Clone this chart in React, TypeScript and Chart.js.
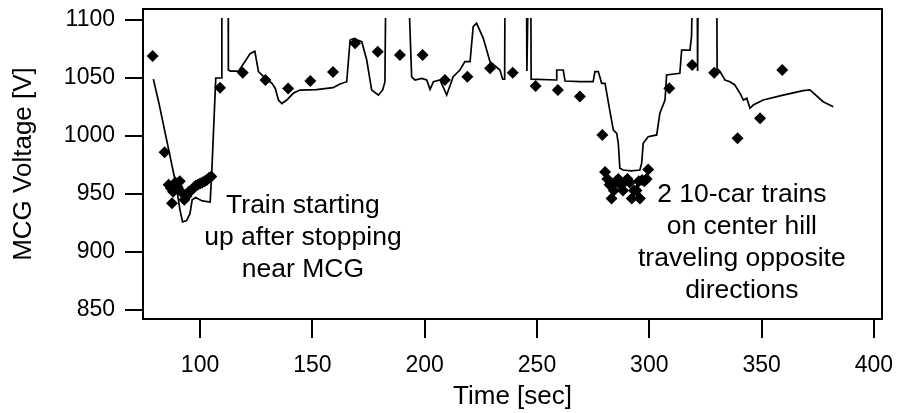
import React, { useEffect, useRef } from "react";
import { Chart, registerables } from "chart.js";

Chart.register(...registerables);

// ---- data ----
const xTickValues = [100, 150, 200, 250, 300, 350, 400];
const yTickValues = [850, 900, 950, 1000, 1050, 1100];

// measured voltage points (diamonds)
const markerTimes = [
  78.9, 84.2,
  86, 87, 87.5, 88, 89, 90, 91, 92, 93, 94, 95, 96, 97, 98, 99, 100, 101, 102, 103, 104, 105,
  108.9, 119, 129.1, 139.2, 149.1, 159.2, 169, 179.1, 189, 199.1, 209, 219, 229.1, 239.2,
  249.4, 259.3, 269.1, 279.1,
  280.3, 281.3, 282.3, 283.2, 284.2, 285.2, 286.2, 287.2, 288.3, 289.3, 290.3, 291.3,
  292.2, 293.2, 294.3, 295.3, 295.8, 296.8, 297.8, 298.8, 299.5,
  308.9, 319.1, 328.9, 339.3, 349.3, 359.2,
];
const markerVolts = [
  1069, 986,
  958, 955, 942, 952, 960, 956, 961, 951, 945, 948, 952, 953, 955, 957, 958, 959, 960, 961, 962, 964, 965,
  1041.7, 1054.6, 1048.3, 1041, 1047.4, 1055.2, 1079.9, 1072.7, 1069.8, 1069.8, 1048.3, 1051.1, 1058.4, 1054.6,
  1043.1, 1039.7, 1034, 1000.9,
  969, 963, 958, 946, 953, 961, 963, 958, 953, 961, 963, 960,
  946, 953, 953, 961, 946, 962, 961, 963, 971,
  1041.1, 1061.2, 1054.6, 998, 1015.3, 1056.9,
];

// simulated voltage trace (line); 1150 = off-scale above the frame
const traceTimes = [
  79.2, 81.5, 89.3, 91, 92.2, 94, 95.5, 96.5, 98, 101, 104.5, 105.2, 107, 109.6, 109.7,
  112.5, 112.6, 113.5, 117.2, 122.3, 124.4, 126, 129, 132, 133.5, 134.9, 136.4, 138.6,
  141.5, 144.4, 151.8, 159.2, 162.3, 165.3, 166.8, 168.3, 172, 174.2, 176.4, 179.4,
  181.3, 182.3, 182.8, 192.4, 194.2, 195.7, 198.7, 200.9, 202.4, 203.9, 206.8, 208.3,
  209.8, 212.7, 215.7, 217.9, 220.2, 221.6, 223.1, 226.1, 229.1, 233.5, 234.7, 235.6,
  235.8, 245.3, 245.5, 246.3, 247.2, 247.4, 258.5, 258.8, 261.7, 262.5, 269.1, 275,
  275.8, 277.3, 278.8, 280.3, 282.5, 284, 285.5, 286.2, 286.9, 288.4, 292, 295.8,
  296.6, 297.3, 299.5, 303.3, 304.7, 307, 307.7, 313.6, 314.4, 318.1, 318.8, 319.5,
  321.3, 321.5, 321.8, 330, 330.2, 331.5, 333.7, 335.9, 338.1, 340.4, 341.9, 343.4,
  344.8, 346.3, 350.7, 359.6, 368.5, 371.5, 377.4, 381.9,
];
const traceVolts = [
  1049, 1030, 958, 937, 926, 927, 933, 945, 947, 944, 943, 968, 1050, 1050, 1150,
  1150, 1057, 1056, 1056, 1071, 1073, 1055.5, 1050, 1045.4, 1041, 1031, 1028, 1031,
  1036.8, 1039.6, 1040, 1041.7, 1044.8, 1046.8, 1082.8, 1084, 1081.3, 1065.5, 1039.7, 1035.3,
  1039.7, 1046.6, 1150, 1150, 1051, 1048.3, 1049.7, 1048.3, 1040.2, 1046.9, 1048.3, 1042,
  1035.3, 1051.1, 1056.9, 1064.1, 1064.1, 1094.3, 1097.2, 1084.2, 1064.1, 1056.9, 1049, 1049,
  1150, 1150, 1056, 1150, 1150, 1049, 1048.3, 1056.9, 1056.9, 1047.4, 1046.8, 1046.8,
  1055.5, 1055.5, 1045.4, 1045.4, 1021, 1005, 1002.3, 993.7, 972.2, 970.7, 970, 970.7,
  976.5, 993.7, 999.4, 1000.9, 1019.6, 1031, 1052.6, 1054, 1074.1, 1074.1, 1085.6, 1150,
  1150, 1056, 1150, 1150, 1058, 1055.5, 1048.3, 1046.8, 1044, 1036.8, 1031, 1032.5,
  1023.9, 1026.7, 1031, 1035.3, 1039.1, 1039.7, 1029.6, 1025.3,
];

const noteLeft = ["Train starting", "up after stopping", "near MCG"];
const noteRight = ["2 10-car trains", "on center hill", "traveling opposite", "directions"];

// ---- styling / layout constants ----
const FONT = "'Liberation Sans', Arial, Helvetica, sans-serif";
const X_MIN = 74.6;
const X_MAX = 403.6;
const Y_MIN = 842.2;
const Y_MAX = 1109.5;
const NOTE_LEFT_ANCHOR = { x: 145.8, y: 933.6 };
const NOTE_RIGHT_ANCHOR = { x: 341.2, y: 943 };
const NOTE_LINE_GAP = 32;

const bgPlugin = {
  id: "bg",
  beforeDraw(chart: any) {
    const { ctx, width, height } = chart;
    ctx.save();
    ctx.fillStyle = "#fff";
    ctx.fillRect(0, 0, width, height);
    ctx.restore();
  },
};

const framePlugin = {
  id: "frame",
  afterDatasetsDraw(chart: any) {
    const { ctx, chartArea } = chart;
    ctx.save();
    ctx.strokeStyle = "#000";
    ctx.lineWidth = 2;
    ctx.strokeRect(
      chartArea.left,
      chartArea.top,
      chartArea.right - chartArea.left,
      chartArea.bottom - chartArea.top
    );
    ctx.restore();
  },
};

const notesPlugin = {
  id: "notes",
  afterDraw(chart: any) {
    const { ctx, scales } = chart;
    const draw = (lines: string[], anchor: { x: number; y: number }) => {
      const cx = scales.x.getPixelForValue(anchor.x);
      const by = scales.y.getPixelForValue(anchor.y);
      lines.forEach((t, i) => {
        ctx.fillText(t, cx, by + i * NOTE_LINE_GAP);
      });
    };
    ctx.save();
    ctx.fillStyle = "#000";
    ctx.font = `26.5px ${FONT}`;
    ctx.textAlign = "center";
    ctx.textBaseline = "alphabetic";
    draw(noteLeft, NOTE_LEFT_ANCHOR);
    draw(noteRight, NOTE_RIGHT_ANCHOR);
    ctx.restore();
  },
};

const zeroPadding = (s: any) => {
  s.paddingTop = 0;
  s.paddingBottom = 0;
  s.paddingLeft = 0;
  s.paddingRight = 0;
};

export default function App() {
  const canvasRef = useRef<HTMLCanvasElement | null>(null);

  useEffect(() => {
    const canvas = canvasRef.current;
    if (!canvas) return;

    const markerData = markerTimes.map((t, i) => ({ x: t, y: markerVolts[i] }));
    const traceData = traceTimes.map((t, i) => ({ x: t, y: traceVolts[i] }));

    const chart = new Chart(canvas, {
      type: "scatter",
      data: {
        datasets: [
          {
            label: "measured",
            data: markerData,
            pointStyle: "rectRot",
            pointRadius: 6,
            backgroundColor: "#000",
            borderColor: "#000",
            borderWidth: 0,
            showLine: false,
            order: 0,
          } as any,
          {
            label: "trace",
            data: traceData,
            showLine: true,
            pointRadius: 0,
            borderColor: "#000",
            borderWidth: 1.7,
            tension: 0,
            clip: { left: 0, top: -9, right: 0, bottom: 0 },
            order: 1,
          } as any,
        ],
      },
      options: {
        responsive: false,
        maintainAspectRatio: false,
        animation: false,
        layout: {
          padding: { left: 0, top: 9, right: 16, bottom: 0 },
          autoPadding: false,
        } as any,
        plugins: {
          legend: { display: false },
          tooltip: { enabled: false },
        },
        scales: {
          x: {
            type: "linear",
            min: X_MIN,
            max: X_MAX,
            afterBuildTicks: (s: any) => {
              s.ticks = xTickValues.map((v) => ({ value: v }));
            },
            afterFit: (s: any) => {
              s.height = 94;
              zeroPadding(s);
            },
            border: { display: false },
            grid: {
              display: true,
              drawOnChartArea: false,
              drawTicks: true,
              tickLength: 19,
              color: "#000",
              tickColor: "#000",
              lineWidth: 2,
              tickWidth: 2,
            },
            ticks: {
              color: "#000",
              font: { family: FONT, size: 23 },
              padding: 14,
              maxRotation: 0,
              autoSkip: false,
              callback: (v: any) => String(v),
            },
            title: {
              display: true,
              text: "Time [sec]",
              color: "#000",
              font: { family: FONT, size: 26 },
              padding: { top: 0, bottom: 1 },
            },
          },
          y: {
            type: "linear",
            min: Y_MIN,
            max: Y_MAX,
            afterBuildTicks: (s: any) => {
              s.ticks = yTickValues.map((v) => ({ value: v }));
            },
            afterFit: (s: any) => {
              s.width = 143;
              zeroPadding(s);
            },
            border: { display: false },
            grid: {
              display: true,
              drawOnChartArea: false,
              drawTicks: true,
              tickLength: 18,
              color: "#000",
              tickColor: "#000",
              lineWidth: 2,
              tickWidth: 2,
            },
            ticks: {
              color: "#000",
              font: { family: FONT, size: 23 },
              padding: 10,
              autoSkip: false,
              callback: (v: any) => String(v),
            },
            title: {
              display: true,
              text: "MCG Voltage [V]",
              color: "#000",
              font: { family: FONT, size: 26 },
              padding: { top: 8, bottom: 0 },
            },
          },
        },
      },
      plugins: [bgPlugin, framePlugin, notesPlugin],
    });

    return () => {
      chart.destroy();
    };
  }, []);

  return (
    <div style={{ position: "absolute", left: 0, top: 0, width: 898, height: 413 }}>
      <canvas ref={canvasRef} width={898} height={413} style={{ display: "block" }} />
    </div>
  );
}
